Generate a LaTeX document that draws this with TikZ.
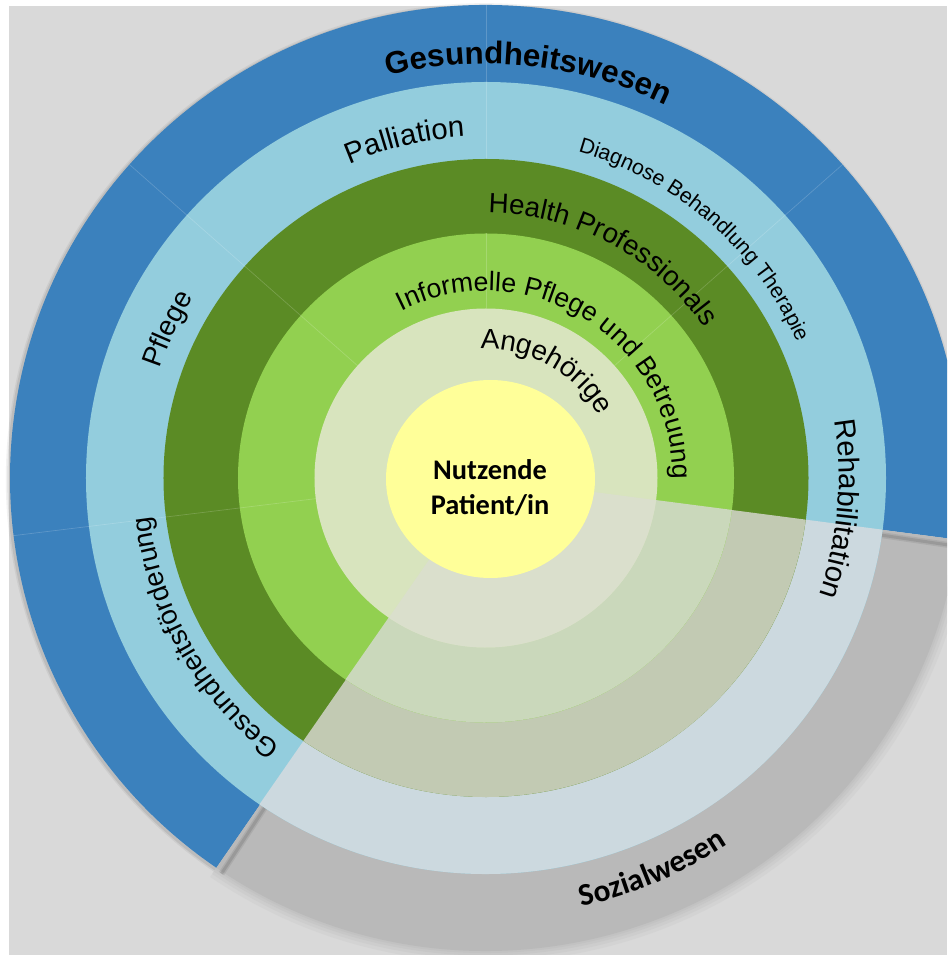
\documentclass[tikz,border=0pt]{standalone}
\usepackage{fontspec}
\newfontfamily\lbl{Liberation Sans}
\newfontfamily\carl{Carlito}
\usetikzlibrary{decorations.text}
\definecolor{bggray}{RGB}{217,217,217}
\definecolor{outerblue}{RGB}{59,129,189}
\definecolor{lightblue}{RGB}{147,205,221}
\definecolor{darkgreen}{RGB}{91,139,37}
\definecolor{lightgreen}{RGB}{146,208,80}
\definecolor{palegreen}{RGB}{216,228,190}
\definecolor{coreyellow}{RGB}{255,255,153}
\definecolor{sozgray}{RGB}{185,185,185}
\definecolor{sozblue}{RGB}{204,217,223}
\definecolor{sozdark}{RGB}{194,202,179}
\definecolor{sozlight}{RGB}{202,216,187}
\definecolor{sozpale}{RGB}{218,223,204}
\newcommand\ringpie[5]{\fill[#1] (0,0) -- (#2:#4 and #5) arc[start angle=#2, end angle=#3, x radius=#4, y radius=#5] -- cycle;}
\newcommand\cwtext[5]{\path[decorate, decoration={text along path, text align=center, text={|#4|#5}}] (#1+#3:#2) arc[start angle=#1+#3, end angle=#1-#3, radius=#2];}
\newcommand\ccwtext[5]{\path[decorate, decoration={text along path, text align=center, text={|#4|#5}}] (#1-#3:#2) arc[start angle=#1-#3, end angle=#1+#3, radius=#2];}
\tikzset{segline/.style={white, opacity=0.18, line width=0.5pt}}
\begin{document}
\begin{tikzpicture}[x=0.75pt,y=0.75pt]
\useasboundingbox (-486,-477) rectangle (461,478);
\clip (-486,-477) rectangle (461,478);
\fill[white] (-486,-477) rectangle (461,478);
\fill[bggray] (-477,-477) rectangle (461,472);
% soft edge of the Sozialwesen band
\foreach \w/\o in {22/0.18, 15/0.22, 9/0.28, 4/0.35}
  \draw[sozgray, opacity=\o, line width=\w*0.75pt] (235.5:476 and 473) arc[start angle=235.5, end angle=352.5, x radius=476, y radius=473];
% shadow of the Gesundheitswesen band
\begin{scope}[shift={(-1.2,-1.2)}]
\foreach \w/\o in {6/0.05, 3/0.08}
  \draw[black, opacity=\o, line width=\w*0.75pt] (-7.5:476 and 473) arc[start angle=-7.5, end angle=235.5, x radius=476, y radius=473];
\end{scope}
\ringpie{outerblue}{-7.5}{235.5}{476}{473}
\ringpie{sozgray}{235.5}{352.5}{476}{473}
% shadows of the band ends
\foreach \w/\o in {6/0.07, 3/0.10}{
  \draw[black, opacity=\o, line width=\w*0.75pt] (-8.3:399 and 395) -- (-8.3:478 and 475);
  \draw[black, opacity=\o, line width=\w*0.75pt] (236.4:399 and 395) -- (236.4:478 and 475);
}
\fill[lightblue] (0,0) ellipse [x radius=400, y radius=396];
\ringpie{sozblue}{235.5}{352.5}{400}{396}
\fill[darkgreen] (0,0) ellipse [x radius=322.5, y radius=319];
\ringpie{sozdark}{235.5}{352.5}{322.5}{319}
\fill[lightgreen] (0,0) ellipse [x radius=248, y radius=244.5];
\ringpie{sozlight}{235.5}{352.5}{248}{244.5}
\fill[palegreen] (0,0) ellipse [x radius=171.5, y radius=169.5];
\ringpie{sozpale}{235.5}{352.5}{171.5}{169.5}
% segment lines
\foreach \a in {41.5,138.5,187}
  \draw[segline] (\a:171.5 and 169.5) -- (\a:476 and 473);
\draw[segline] (90:171.5 and 169.5) -- (90:248 and 244.5);
\draw[segline] (90:322.5 and 319) -- (90:476 and 473);
% core
\fill[coreyellow] (4.5,-1) ellipse [x radius=104.5, y radius=99];
\node[font=\carl\bfseries\fontsize{21.3pt}{26pt}\selectfont, align=center, inner sep=0pt] (patient) at (4,-10) {Nutzende\\Patient/in};
% labels
\cwtext{84}{414}{60}{\lbl\bfseries\fontsize{23.5pt}{28pt}\selectfont}{Gesundheitswesen}
\cwtext{103.5}{342}{30}{\lbl\fontsize{22pt}{26pt}\selectfont}{Palliation}
\cwtext{48.9}{339}{40}{\lbl\fontsize{16pt}{19pt}\selectfont}{Diagnose Behandlung Therapie}
\cwtext{62}{265}{45}{\lbl\fontsize{20.8pt}{24pt}\selectfont}{Health Professionals}
\cwtext{58.3}{187}{75}{\lbl\fontsize{20pt}{24pt}\selectfont}{Informelle Pflege und Betreuung}
\cwtext{60.6}{129}{50}{\lbl\fontsize{21pt}{25pt}\selectfont}{Angehörige}
\cwtext{154.9}{344}{25}{\lbl\fontsize{21pt}{25pt}\selectfont}{Pflege}
\cwtext{209.5}{338}{40}{\lbl\fontsize{20.6pt}{25pt}\selectfont}{Gesundheitsförderung}
\cwtext{-5}{353}{30}{\lbl\fontsize{22pt}{26pt}\selectfont}{Rehabilitation}
\ccwtext{-67}{439}{25}{\carl\bfseries\fontsize{23.5pt}{28pt}\selectfont}{Sozialwesen}
\end{tikzpicture}
\end{document}
